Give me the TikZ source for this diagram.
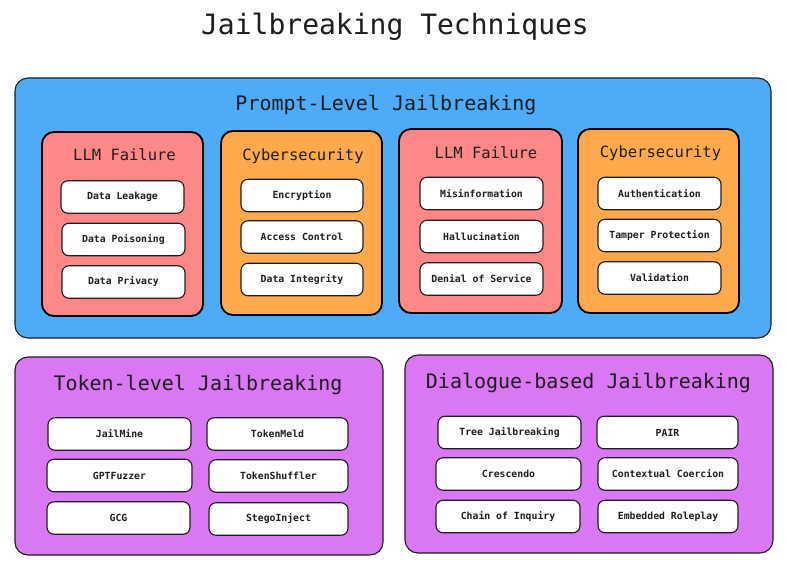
\documentclass[tikz,border=0pt]{standalone}
\usepackage{fontspec}
\setmainfont{DejaVu Sans Mono}
\definecolor{blueF}{HTML}{4DABF7}
\definecolor{redF}{HTML}{FF8787}
\definecolor{orangeF}{HTML}{FFA94D}
\definecolor{purpleF}{HTML}{DA77F2}
\definecolor{inkC}{HTML}{1E1E1E}
\tikzset{
  bigbox/.style={draw=inkC, line width=1.1pt, rounded corners=13pt, inner sep=0pt},
  groupbox/.style={draw=black, line width=1.8pt, rounded corners=12pt, inner sep=0pt, minimum width=161pt, minimum height=184pt},
  itembox/.style={draw=inkC, line width=1.1pt, fill=white, rounded corners=7pt, inner sep=0pt, minimum height=32.5pt, text=inkC, font=\fontsize{9.8}{11}\selectfont\bfseries},
  maintitle/.style={text=inkC, font=\fontsize{28}{32}\selectfont},
  sectitle/.style={text=inkC, font=\fontsize{20}{24}\selectfont},
  grouptitle/.style={text=inkC, font=\fontsize{15.5}{18}\selectfont},
}
\begin{document}
\begin{tikzpicture}[x=1pt,y=-1pt]
\useasboundingbox (0,0) rectangle (789,563);
\fill[white] (0,0) rectangle (789,563);

\node[maintitle] (title) at (395,27) {Jailbreaking Techniques};

% Prompt-level
\node[bigbox, fill=blueF, minimum width=756pt, minimum height=260pt] (prompt) at (393,208) {};
\node[sectitle] (promptT) at (386,105) {Prompt-Level Jailbreaking};

\node[groupbox, fill=redF] (g1) at (122.5,224) {};
\node[groupbox, fill=orangeF] (g2) at (301.5,223) {};
\node[groupbox, fill=redF, minimum width=163pt] (g3) at (480.5,221) {};
\node[groupbox, fill=orangeF] (g4) at (658.5,221) {};

\node[grouptitle] (g1T) at (124.5,155) {LLM Failure};
\node[grouptitle] (g2T) at (303,156) {Cybersecurity};
\node[grouptitle] (g3T) at (486,153) {LLM Failure};
\node[grouptitle] (g4T) at (660.5,153) {Cybersecurity};

\node[itembox, minimum width=123pt] (a1) at (122.5,197) {Data Leakage};
\node[itembox, minimum width=123pt] (a2) at (123.5,239.5) {Data Poisoning};
\node[itembox, minimum width=123pt] (a3) at (123.5,282) {Data Privacy};

\node[itembox, minimum width=122pt] (b1) at (302,195.5) {Encryption};
\node[itembox, minimum width=122pt] (b2) at (302,237) {Access Control};
\node[itembox, minimum width=122pt] (b3) at (302,279.5) {Data Integrity};

\node[itembox, minimum width=123pt] (c1) at (481.5,193.5) {Misinformation};
\node[itembox, minimum width=123pt] (c2) at (481.5,236.5) {Hallucination};
\node[itembox, minimum width=123pt] (c3) at (481.5,279) {Denial of Service};

\node[itembox, minimum width=123pt] (d1) at (659.5,193.5) {Authentication};
\node[itembox, minimum width=123pt] (d2) at (659.5,235.5) {Tamper Protection};
\node[itembox, minimum width=123pt] (d3) at (659.5,278) {Validation};

% Token-level
\node[bigbox, fill=purpleF, minimum width=368pt, minimum height=198pt] (token) at (199,456) {};
\node[sectitle] (tokenT) at (198,385) {Token-level Jailbreaking};

\node[itembox, minimum width=143pt] (t1) at (119.5,434) {JailMine};
\node[itembox, minimum width=145pt] (t2) at (119.5,475.5) {GPTFuzzer};
\node[itembox, minimum width=143pt] (t3) at (118.5,518) {GCG};
\node[itembox, minimum width=141pt] (t4) at (277.5,434) {TokenMeld};
\node[itembox, minimum width=139pt] (t5) at (278.5,476) {TokenShuffler};
\node[itembox, minimum width=139pt] (t6) at (278.5,519) {StegoInject};

% Dialogue-based
\node[bigbox, fill=purpleF, minimum width=368pt, minimum height=198pt] (dialog) at (589,454) {};
\node[sectitle] (dialogT) at (588.5,383) {Dialogue-based Jailbreaking};

\node[itembox, minimum width=143pt] (u1) at (509.5,432.5) {Tree Jailbreaking};
\node[itembox, minimum width=145pt] (u2) at (508.5,474) {Crescendo};
\node[itembox, minimum width=144pt] (u3) at (508,516.5) {Chain of Inquiry};
\node[itembox, minimum width=141pt] (u4) at (667.5,432.5) {PAIR};
\node[itembox, minimum width=140pt] (u5) at (668,474) {Contextual Coercion};
\node[itembox, minimum width=140pt] (u6) at (668,516.5) {Embedded Roleplay};
\end{tikzpicture}
\end{document}
